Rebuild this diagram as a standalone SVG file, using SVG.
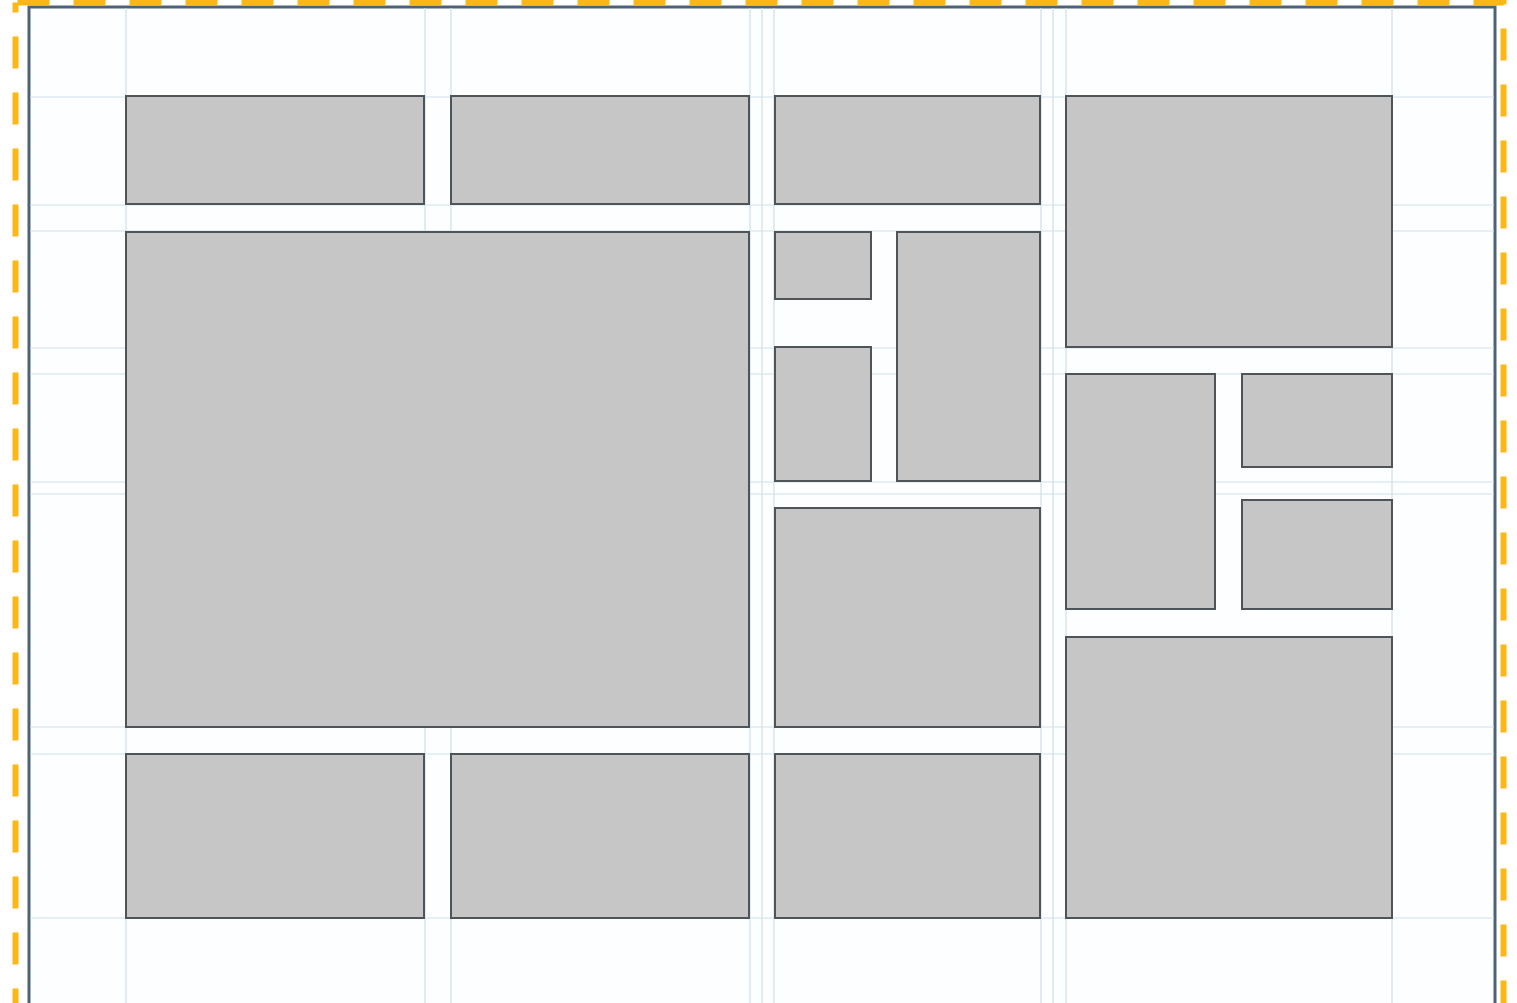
<svg xmlns="http://www.w3.org/2000/svg" width="1517" height="1003" viewBox="0 0 1517 1003">
<style>
.grid line{stroke:#cfdfe8;stroke-width:1.2}
.box{fill:#c6c6c6;stroke:#4f5458;stroke-width:2}
</style>
<rect x="0" y="0" width="1517" height="1003" fill="#ffffff"/>
<rect x="29" y="7" width="1466" height="1000" fill="#fcfeff" stroke="#4d6375" stroke-width="3"/>
<g class="grid" id="grid">
<line x1="126" y1="8" x2="126" y2="1003"/>
<line x1="425" y1="8" x2="425" y2="1003"/>
<line x1="451" y1="8" x2="451" y2="1003"/>
<line x1="750" y1="8" x2="750" y2="1003"/>
<line x1="762" y1="8" x2="762" y2="1003"/>
<line x1="774" y1="8" x2="774" y2="1003"/>
<line x1="1041" y1="8" x2="1041" y2="1003"/>
<line x1="1053" y1="8" x2="1053" y2="1003"/>
<line x1="1066" y1="8" x2="1066" y2="1003"/>
<line x1="1392" y1="8" x2="1392" y2="1003"/>
<line x1="30" y1="97" x2="1494" y2="97"/>
<line x1="30" y1="205" x2="1494" y2="205"/>
<line x1="30" y1="231" x2="1494" y2="231"/>
<line x1="30" y1="348" x2="1494" y2="348"/>
<line x1="30" y1="374" x2="1494" y2="374"/>
<line x1="30" y1="482" x2="1494" y2="482"/>
<line x1="30" y1="494" x2="1494" y2="494"/>
<line x1="30" y1="727" x2="1494" y2="727"/>
<line x1="30" y1="754" x2="1494" y2="754"/>
<line x1="30" y1="918" x2="1494" y2="918"/>
</g>
<g id="nodes">
<rect id="n1" class="box" x="126" y="96" width="298" height="108"/>
<rect id="n2" class="box" x="451" y="96" width="298" height="108"/>
<rect id="n3" class="box" x="775" y="96" width="265" height="108"/>
<rect id="n4" class="box" x="1066" y="96" width="326" height="251"/>
<rect id="n5" class="box" x="126" y="232" width="623" height="495"/>
<rect id="n6" class="box" x="775" y="232" width="96" height="67"/>
<rect id="n7" class="box" x="775" y="347" width="96" height="134"/>
<rect id="n8" class="box" x="897" y="232" width="143" height="249"/>
<rect id="n9" class="box" x="775" y="508" width="265" height="219"/>
<rect id="n10" class="box" x="1066" y="374" width="149" height="235"/>
<rect id="n11" class="box" x="1242" y="374" width="150" height="93"/>
<rect id="n12" class="box" x="1242" y="500" width="150" height="109"/>
<rect id="n13" class="box" x="1066" y="637" width="326" height="281"/>
<rect id="n14" class="box" x="126" y="754" width="298" height="164"/>
<rect id="n15" class="box" x="451" y="754" width="298" height="164"/>
<rect id="n16" class="box" x="775" y="754" width="265" height="164"/>
</g>
<rect x="15.5" y="2.5" width="1488" height="1010" fill="none" stroke="#fbb814" stroke-width="6" stroke-dasharray="32 24" stroke-dashoffset="-2"/>
</svg>
